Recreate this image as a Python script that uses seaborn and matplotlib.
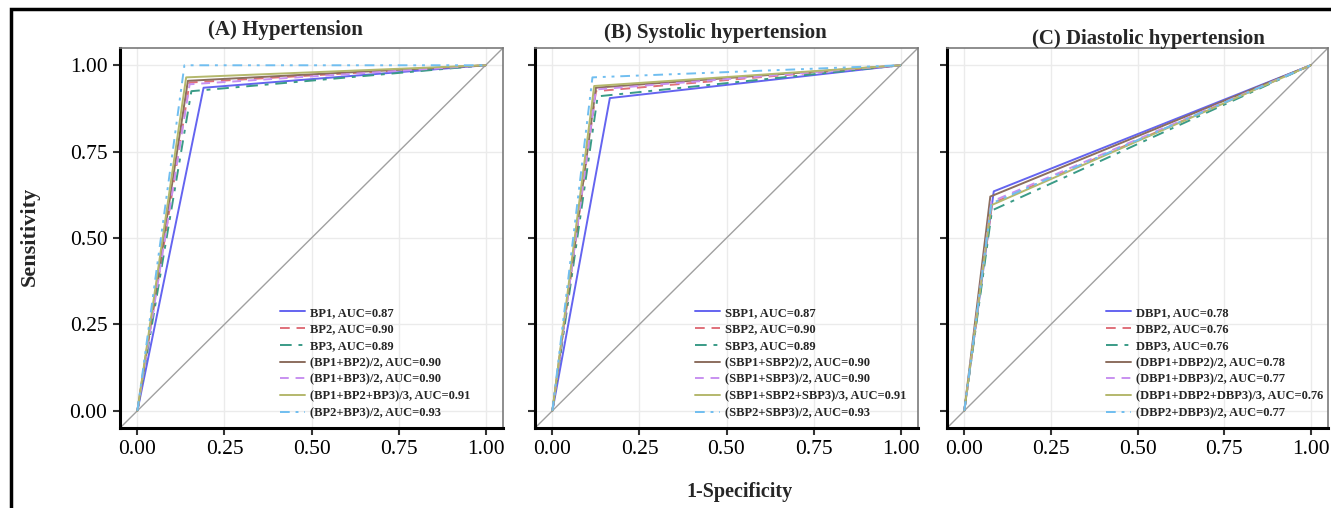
import numpy as np
import pandas as pd
import matplotlib
matplotlib.use("Agg")
import matplotlib.pyplot as plt
import seaborn as sns
from matplotlib.patches import Rectangle

# ---------------- data ----------------
titles = ["(A) Hypertension", "(B) Systolic hypertension", "(C) Diastolic hypertension"]

labels_A = ["BP1, AUC=0.87", "BP2, AUC=0.90", "BP3, AUC=0.89", "(BP1+BP2)/2, AUC=0.90",
            "(BP1+BP3)/2, AUC=0.90", "(BP1+BP2+BP3)/3, AUC=0.91", "(BP2+BP3)/2, AUC=0.93"]
fpr_A = [0.19, 0.15, 0.155, 0.145, 0.15, 0.14, 0.135]
tpr_A = [0.935, 0.95, 0.925, 0.955, 0.945, 0.965, 1.00]

labels_B = ["SBP1, AUC=0.87", "SBP2, AUC=0.90", "SBP3, AUC=0.89", "(SBP1+SBP2)/2, AUC=0.90",
            "(SBP1+SBP3)/2, AUC=0.90", "(SBP1+SBP2+SBP3)/3, AUC=0.91", "(SBP2+SBP3)/2, AUC=0.93"]
fpr_B = [0.165, 0.125, 0.13, 0.125, 0.125, 0.12, 0.115]
tpr_B = [0.905, 0.925, 0.91, 0.935, 0.93, 0.94, 0.965]

labels_C = ["DBP1, AUC=0.78", "DBP2, AUC=0.76", "DBP3, AUC=0.76", "(DBP1+DBP2)/2, AUC=0.78",
            "(DBP1+DBP3)/2, AUC=0.77", "(DBP1+DBP2+DBP3)/3, AUC=0.76", "(DBP2+DBP3)/2, AUC=0.77"]
fpr_C = [0.085, 0.08, 0.08, 0.075, 0.078, 0.078, 0.078]
tpr_C = [0.635, 0.60, 0.58, 0.62, 0.605, 0.595, 0.60]

tick_vals = [0.00, 0.25, 0.50, 0.75, 1.00]
tick_labels = ["0.00", "0.25", "0.50", "0.75", "1.00"]

# ---------------- styles ----------------
colors = ["#6464F0", "#E0707A", "#3A9B87", "#8C6E5E", "#C890F0", "#B4B86C", "#70BEF0"]
dashes = [(None, None), (5, 3.5), (6, 3.5, 2, 3.5), (None, None), (4.5, 3.5), (None, None), (5, 3, 1.5, 3, 1.5, 3)]

sns.set_theme(style="whitegrid")
plt.rcParams['font.family'] = ['Liberation Serif', 'DejaVu Serif']
plt.rcParams['axes.unicode_minus'] = False

W, H = 1331, 508
fig = plt.figure(figsize=(W / 100, H / 100), dpi=100)

ax_px = [(120, 503), (535, 918), (947, 1328)]
top_px, bot_px = 48, 428
title_pos = [(285, 30), (715, 33), (1148, 39)]

panels = [(labels_A, fpr_A, tpr_A), (labels_B, fpr_B, tpr_B), (labels_C, fpr_C, tpr_C)]

for i, ((x0, x1), (labs, fprs, tprs)) in enumerate(zip(ax_px, panels)):
    ax = fig.add_axes([x0 / W, 1 - bot_px / H, (x1 - x0) / W, (bot_px - top_px) / H])
    ax.set_xlim(-0.05, 1.05)
    ax.set_ylim(-0.05, 1.05)
    ax.plot([-0.05, 1.05], [-0.05, 1.05], color="#A0A0A0", lw=1.0, zorder=1)
    for j, (lab, f, t) in enumerate(zip(labs, fprs, tprs)):
        df = pd.DataFrame({"x": [0.0, f, 1.0], "y": [0.0, t, 1.0]})
        sns.lineplot(data=df, x="x", y="y", ax=ax, color=colors[j], lw=1.4,
                     label=lab, zorder=2 + j, sort=False, estimator=None)
        ln = ax.get_lines()[-1]
        if dashes[j][0] is not None:
            ln.set_dashes(dashes[j])
    ax.set_xticks(tick_vals)
    ax.set_xticklabels(tick_labels)
    ax.set_yticks(tick_vals)
    if i == 0:
        ax.set_yticklabels(tick_labels)
    else:
        ax.set_yticklabels([])
    ax.set_xlabel("")
    ax.set_ylabel("")
    ax.grid(True, color="#EBEBEB", lw=1.0)
    ax.tick_params(axis="both", which="major", length=5, width=1.5, color="#333333",
                   labelsize=15.5, labelcolor="black", pad=4, direction="out",
                   bottom=True, left=True)
    for s in ["left", "bottom"]:
        ax.spines[s].set_color("black")
        ax.spines[s].set_linewidth(2.2)
    for s in ["top", "right"]:
        ax.spines[s].set_color("#7A7A7A")
        ax.spines[s].set_linewidth(1.2)
    tx, ty = title_pos[i]
    fig.text(tx / W, 1 - ty / H, titles[i], ha="center", va="center",
             fontsize=15, fontweight="bold")
    ax.legend(loc="lower left", bbox_to_anchor=(0.395, 0.0), frameon=False,
              prop={"family": "Liberation Serif", "weight": "bold", "size": 9},
              handlelength=2.0, labelspacing=0.38, handletextpad=0.4, borderaxespad=0.3)

fig.text(30 / W, 1 - 236 / H, "Sensitivity", rotation=90, ha="center", va="center",
         fontsize=16, fontweight="bold")
fig.text(740 / W, 1 - 492 / H, "1-Specificity", ha="center", va="center",
         fontsize=14.5, fontweight="bold")

fig.patches.append(Rectangle((11 / W, -0.2), 1.2, 1.2 - 9 / H, transform=fig.transFigure,
                             fill=False, edgecolor="black", lw=2.5))

fig.savefig("out.png", dpi=100)
